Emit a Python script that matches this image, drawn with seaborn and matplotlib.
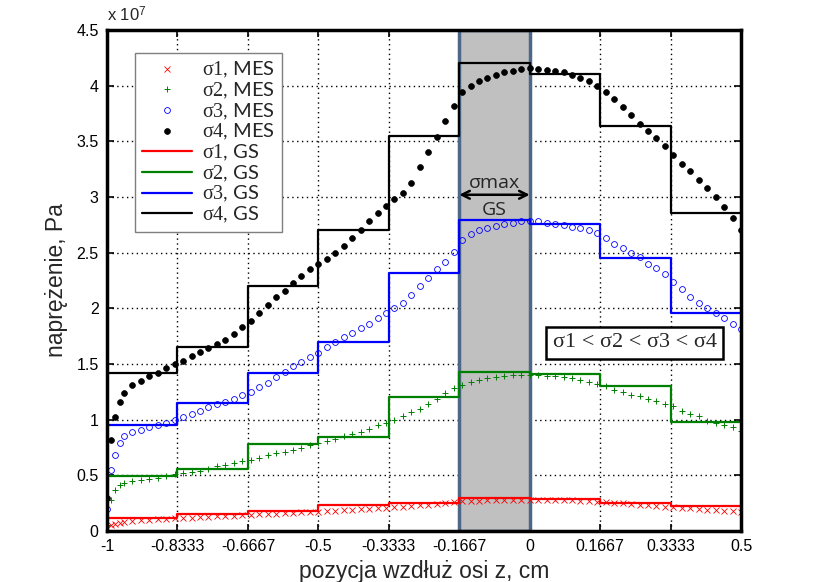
import numpy as np
import pandas as pd
import matplotlib
matplotlib.use("Agg")
import matplotlib.pyplot as plt
from matplotlib.ticker import FuncFormatter
import seaborn as sns

# ---------------- data ----------------
# GS step edges (x tick positions) and labels
edges = [-1.0, -0.8333, -0.6667, -0.5, -0.3333, -0.1667, 0.0, 0.1667, 0.3333, 0.5]
tick_labels = ["-1", "-0.8333", "-0.6667", "-0.5", "-0.3333", "-0.1667", "0", "0.1667", "0.3333", "0.5"]

# GS values per segment (x 1e7 Pa)
gs1 = [0.114, 0.150, 0.180, 0.234, 0.249, 0.300, 0.285, 0.249, 0.225]
gs2 = [0.497, 0.554, 0.779, 0.847, 1.207, 1.426, 1.410, 1.300, 0.977]
gs3 = [0.952, 1.153, 1.420, 1.700, 2.320, 2.794, 2.758, 2.450, 1.956]
gs4 = [1.420, 1.650, 2.200, 2.700, 3.550, 4.200, 4.106, 3.640, 2.857]

# MES sample positions
x_mes = [-1.00, -0.99, -0.98, -0.97, -0.96,
         -0.94, -0.92, -0.90, -0.88, -0.86, -0.84, -0.82, -0.80,
         -0.78, -0.76, -0.74, -0.72, -0.70, -0.68, -0.66, -0.64,
         -0.62, -0.60, -0.58, -0.56, -0.54, -0.52, -0.50, -0.48,
         -0.46, -0.44, -0.42, -0.40, -0.38, -0.36, -0.34, -0.32,
         -0.30, -0.28, -0.26, -0.24, -0.22, -0.20, -0.18, -0.16,
         -0.14, -0.12, -0.10, -0.08, -0.06, -0.04, -0.02, 0.00,
         0.02, 0.04, 0.06, 0.08, 0.10, 0.12, 0.14, 0.16,
         0.18, 0.20, 0.22, 0.24, 0.26, 0.28, 0.30, 0.32,
         0.34, 0.36, 0.38, 0.40, 0.42, 0.44, 0.46, 0.48,
         0.50]

mes4 = [0.30, 0.82, 1.02, 1.16, 1.24,
        1.31, 1.35, 1.39, 1.42, 1.46, 1.50, 1.53, 1.57,
        1.61, 1.64, 1.68, 1.72, 1.77, 1.83, 1.89, 1.96,
        2.03, 2.10, 2.16, 2.23, 2.29, 2.35, 2.40, 2.44,
        2.50, 2.56, 2.63, 2.70, 2.78, 2.86, 2.92, 2.98,
        3.04, 3.13, 3.27, 3.40, 3.54, 3.68, 3.82, 3.94,
        4.00, 4.04, 4.07, 4.10, 4.12, 4.13, 4.15, 4.16,
        4.15, 4.14, 4.13, 4.12, 4.10, 4.07, 4.04, 4.00,
        3.94, 3.88, 3.81, 3.74, 3.66, 3.59, 3.53, 3.46,
        3.38, 3.30, 3.23, 3.15, 3.08, 3.00, 2.91, 2.81,
        2.70]

mes3 = [0.20, 0.55, 0.68, 0.79, 0.85,
        0.89, 0.91, 0.93, 0.95, 0.97, 1.00, 1.02, 1.05,
        1.08, 1.11, 1.14, 1.16, 1.19, 1.22, 1.25, 1.29,
        1.33, 1.38, 1.43, 1.48, 1.52, 1.56, 1.60, 1.65,
        1.70, 1.74, 1.78, 1.82, 1.86, 1.91, 1.96, 2.00,
        2.05, 2.12, 2.20, 2.27, 2.35, 2.42, 2.51, 2.61,
        2.67, 2.70, 2.72, 2.74, 2.76, 2.77, 2.78, 2.78,
        2.78, 2.77, 2.76, 2.75, 2.73, 2.72, 2.70, 2.68,
        2.63, 2.58, 2.54, 2.50, 2.46, 2.40, 2.36, 2.31,
        2.24, 2.17, 2.10, 2.05, 2.00, 1.96, 1.91, 1.86,
        1.81]

mes2 = [0.05, 0.28, 0.37, 0.41, 0.43,
        0.45, 0.46, 0.47, 0.48, 0.49, 0.51, 0.52, 0.53,
        0.54, 0.56, 0.58, 0.59, 0.61, 0.63, 0.64, 0.66,
        0.68, 0.70, 0.71, 0.73, 0.75, 0.77, 0.79, 0.81,
        0.83, 0.85, 0.87, 0.89, 0.92, 0.95, 0.97, 1.00,
        1.03, 1.07, 1.10, 1.14, 1.19, 1.24, 1.28, 1.31,
        1.34, 1.36, 1.37, 1.38, 1.39, 1.40, 1.40, 1.40,
        1.40, 1.39, 1.39, 1.38, 1.37, 1.36, 1.34, 1.32,
        1.30, 1.27, 1.25, 1.22, 1.21, 1.19, 1.17, 1.14,
        1.12, 1.08, 1.05, 1.03, 0.99, 0.97, 0.95, 0.93,
        0.90]

mes1 = [0.03, 0.05, 0.06, 0.07, 0.08,
        0.090, 0.095, 0.100, 0.105, 0.110, 0.113, 0.117, 0.120,
        0.124, 0.128, 0.131, 0.135, 0.139, 0.143, 0.146, 0.150,
        0.153, 0.156, 0.160, 0.163, 0.167, 0.171, 0.175, 0.179,
        0.183, 0.187, 0.191, 0.195, 0.199, 0.203, 0.207, 0.212,
        0.218, 0.224, 0.231, 0.238, 0.245, 0.252, 0.259, 0.266,
        0.271, 0.274, 0.277, 0.279, 0.280, 0.281, 0.282, 0.282,
        0.281, 0.280, 0.279, 0.277, 0.275, 0.272, 0.268, 0.264,
        0.259, 0.254, 0.248, 0.242, 0.236, 0.230, 0.225, 0.220,
        0.214, 0.208, 0.203, 0.198, 0.193, 0.188, 0.183, 0.178,
        0.174]

y_ticks = [0, 0.5, 1, 1.5, 2, 2.5, 3, 3.5, 4, 4.5]
SCALE = 1e7

# ---------------- style ----------------
sns.set_style("ticks")
plt.rcParams["font.family"] = ["Liberation Sans", "DejaVu Sans"]
plt.rcParams["mathtext.fontset"] = "custom"
plt.rcParams["mathtext.rm"] = "Liberation Serif"
plt.rcParams["mathtext.it"] = "Liberation Serif:italic"
plt.rcParams["mathtext.sf"] = "Liberation Sans"

fig = plt.figure(figsize=(8.2, 5.82), dpi=100)
ax = fig.add_axes([0.1305, 0.0876, 0.7732, 0.8609])

# shaded max region
ax.axvspan(edges[5], edges[6], facecolor="#c0c0c0", edgecolor="#4d6789",
           linewidth=2.5, zorder=1)

# GS step lines
gs_series = [(gs1, "red", r"$\mathrm{\sigma1}$, GS"),
             (gs2, "#008000", r"$\mathrm{\sigma2}$, GS"),
             (gs3, "#0000ff", r"$\mathrm{\sigma3}$, GS"),
             (gs4, "black", r"$\mathrm{\sigma4}$, GS")]
# MES scatter
mes_series = [(mes1, "red", "x", dict(markersize=4, markeredgewidth=0.6, markerfacecolor="none"), r"$\mathrm{\sigma1}$, MES"),
              (mes2, "#008000", "+", dict(markersize=5, markeredgewidth=0.7, markerfacecolor="none"), r"$\mathrm{\sigma2}$, MES"),
              (mes3, "#0000ff", "o", dict(markersize=4.2, markeredgewidth=0.6, markerfacecolor="none"), r"$\mathrm{\sigma3}$, MES"),
              (mes4, "black", "o", dict(markersize=4.2, markeredgewidth=0.5, markerfacecolor="black"), r"$\mathrm{\sigma4}$, MES")]

for vals, col, mk, kw, lab in mes_series:
    df = pd.DataFrame({"x": x_mes, "y": np.array(vals) * SCALE})
    sns.lineplot(data=df, x="x", y="y", ax=ax, estimator=None, sort=False,
                 linestyle="", marker=mk, color=col, markeredgecolor=col,
                 label=lab, zorder=3, **kw)

for vals, col, lab in gs_series:
    df = pd.DataFrame({"x": edges, "y": (np.array(list(vals) + [vals[-1]])) * SCALE})
    sns.lineplot(data=df, x="x", y="y", ax=ax, estimator=None, sort=False,
                 drawstyle="steps-post", color=col, linewidth=1.6,
                 label=lab, zorder=2)

# axes setup
ax.set_xlim(edges[0], edges[-1])
ax.set_ylim(0, 4.5 * SCALE)
ax.set_xticks(edges)
ax.set_xticklabels(tick_labels)
ax.set_yticks([v * SCALE for v in y_ticks])
ax.yaxis.set_major_formatter(FuncFormatter(lambda v, p: f"{v / SCALE:g}"))
ax.tick_params(direction="in", length=5, width=1.2, top=True, right=True,
               labelsize=11.5, colors="black", pad=6)
ax.set_axisbelow(True)
ax.grid(True, color="black", linestyle=(0, (1, 2.5)), linewidth=1.0)
for sp in ax.spines.values():
    sp.set_linewidth(2.5)
    sp.set_color("black")
    sp.set_zorder(5)

ax.set_xlabel("pozycja wzdłuż osi z, cm", fontsize=16.5, labelpad=4)
ax.set_ylabel("naprężenie, Pa", fontsize=16.5, labelpad=6)

ax.text(0.0, 1.012, r"x 10$^{\mathsf{7}}$", transform=ax.transAxes,
        fontsize=12, ha="left", va="bottom")

# legend
handles, labels = ax.get_legend_handles_labels()
leg = ax.legend(handles, labels, loc="upper left", bbox_to_anchor=(0.044, 0.954),
                borderaxespad=0.0, frameon=True, fancybox=False, framealpha=1,
                edgecolor="#7f7f7f", numpoints=1, handlelength=2.5,
                labelspacing=0.02, borderpad=0.35, handletextpad=0.5,
                prop={"family": ["Lato", "DejaVu Sans"], "size": 14.5})
leg.get_frame().set_linewidth(1.0)
leg.set_zorder(6)

# sigma max annotation
ax.annotate("", xy=(edges[5], 3.02 * SCALE), xytext=(edges[6], 3.02 * SCALE),
            arrowprops=dict(arrowstyle="<->", color="black", lw=1.8,
                            mutation_scale=14, shrinkA=0, shrinkB=0), zorder=4)
ax.text((edges[5] + edges[6]) / 2, 3.13 * SCALE, "σmax", ha="center", va="center",
        fontsize=14, family=["Open Sans", "DejaVu Sans"], zorder=4)
ax.text((edges[5] + edges[6]) / 2, 2.88 * SCALE, "GS", ha="center", va="center",
        fontsize=14, family=["Open Sans", "DejaVu Sans"], zorder=4)

# ordering text box
ax.text(0.248, 1.69 * SCALE, "σ1 < σ2 < σ3 < σ4", ha="center", va="center",
        fontsize=16, family=["Liberation Serif", "DejaVu Serif"], zorder=6,
        bbox=dict(boxstyle="square,pad=0.3", facecolor="white", edgecolor="black",
                  linewidth=1.8))

fig.savefig("out.png", dpi=100)
